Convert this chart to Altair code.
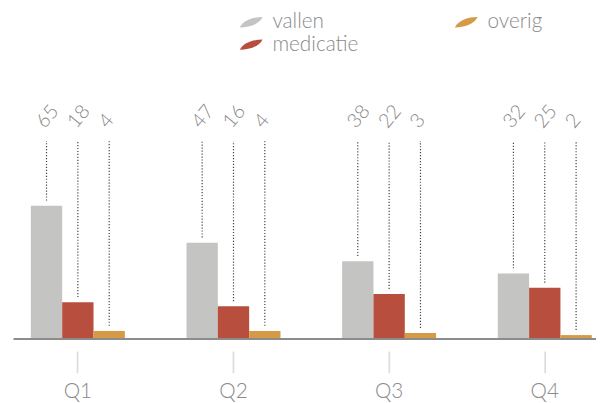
import altair as alt
import pandas as pd

quarters = ["Q1", "Q2", "Q3", "Q4"]
series = ["vallen", "medicatie", "overig"]
vallen = [65, 47, 38, 32]
medicatie = [18, 16, 22, 25]
overig = [4, 4, 3, 2]
colors = ["#c4c4c2", "#b84f3e", "#d69945"]

rows = []
for s, vals in zip(series, [vallen, medicatie, overig]):
    for q, v in zip(quarters, vals):
        rows.append({"kwartaal": q, "reeks": s, "aantal": v})
df = pd.DataFrame(rows)

LABEL_LEVEL = 96.5
GAP = 2.5
LEAF = "M-1.1,0.5 C-0.75,-0.2 0.2,-0.5 1.1,-0.5 C0.75,0.2 -0.2,0.5 -1.1,0.5 Z"

x = alt.X(
    "kwartaal:N",
    sort=quarters,
    scale=alt.Scale(paddingInner=0.396, paddingOuter=0.068, align=0.8),
    axis=alt.Axis(
        title=None, domain=False, offset=12, tickSize=22, tickColor="#dcdcdc",
        tickWidth=1.7, labelFontSize=21, labelColor="#8a8a8a", labelFont="Lato",
        labelFontWeight=300, labelPadding=8, labelAngle=0,
    ),
)
xo = alt.XOffset("reeks:N", scale=alt.Scale(domain=series, paddingInner=0, paddingOuter=0))
yscale = alt.Scale(domain=[0, 160])

base = alt.Chart(df)

bars = base.mark_bar().encode(
    x=x,
    xOffset=xo,
    y=alt.Y("aantal:Q", scale=yscale, axis=None),
    color=alt.Color(
        "reeks:N",
        scale=alt.Scale(domain=series, range=colors),
        legend=alt.Legend(
            title=None, orient="none", legendX=230, legendY=1, columns=2,
            columnPadding=96, rowPadding=1, padding=0,
            symbolType=LEAF, symbolSize=441, symbolStrokeWidth=0, symbolOpacity=1,
            labelFont="Lato", labelFontSize=21, labelFontWeight=300,
            labelColor="#8a8a8a", labelOffset=11,
        ),
    ),
)

rules = base.transform_calculate(
    top=f"datum.aantal + {GAP}", lvl=str(LABEL_LEVEL)
).mark_rule(strokeDash=[1.2, 1.8], color="#444444", strokeWidth=1.2).encode(
    x=x,
    xOffset=xo,
    y=alt.Y("top:Q", scale=yscale, axis=None),
    y2="lvl:Q",
)

labels = base.transform_calculate(lvl=str(LABEL_LEVEL)).mark_text(
    angle=310, align="left", baseline="middle", dx=8, dy=-15,
    fontSize=20, font="Lato", fontWeight=300, color="#888888",
).encode(
    x=x,
    xOffset=xo,
    y=alt.Y("lvl:Q", scale=yscale, axis=None),
    text="aantal:Q",
)

baseline = base.mark_rule(color="#8c8c8c", strokeWidth=1.5).encode(y=alt.Y(datum=0))

chart = alt.layer(bars, rules, labels, baseline).properties(
    width=590, height=333,
    autosize=alt.AutoSizeParams(type="none"),
    padding={"left": 6, "top": 0, "right": 0, "bottom": 62},
    background="white",
).configure_view(stroke=None)

chart.save("out.html", embed_options={"renderer": "svg", "actions": False})
